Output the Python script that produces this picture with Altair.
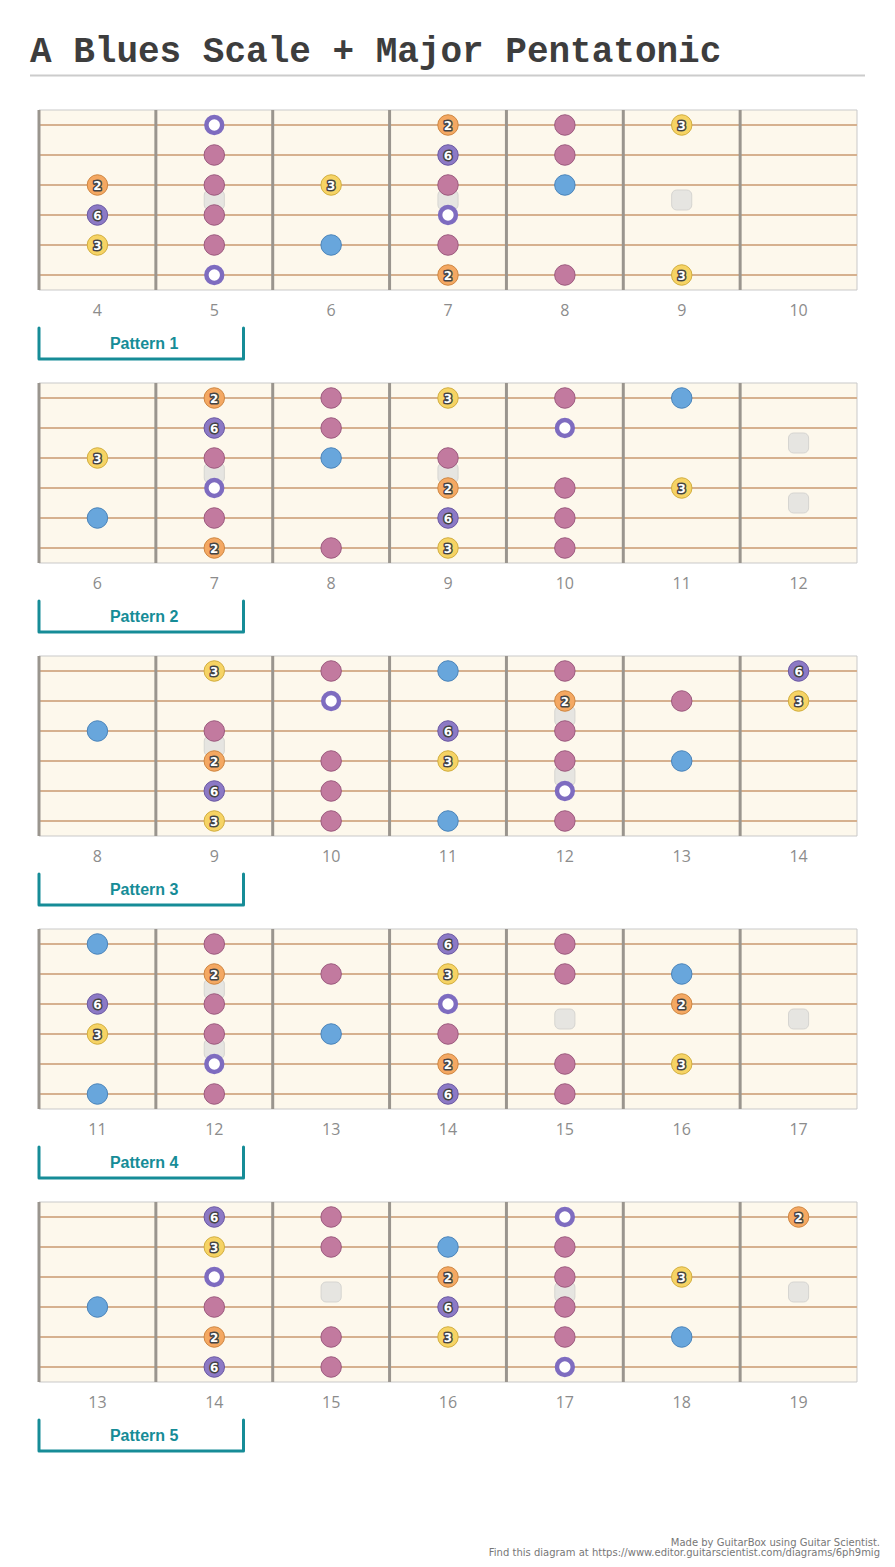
import altair as alt
import pandas as pd

TITLE = "A Blues Scale + Major Pentatonic"
FOOTER_1 = "Made by GuitarBox using Guitar Scientist."
FOOTER_2 = "Find this diagram at https://www.editor.guitarscientist.com/diagrams/6ph9mig"

pattern_names = ["Pattern 1", "Pattern 2", "Pattern 3", "Pattern 4", "Pattern 5"]
start_frets = [4, 6, 8, 11, 13]

# (string counted from the top, fret, degree)  R = root, m = minor pentatonic, b5 = blue note
p1_notes = [(1, 5, "R"), (1, 7, "2"), (1, 8, "m"), (1, 9, "3"),
            (2, 5, "m"), (2, 7, "6"), (2, 8, "m"),
            (3, 4, "2"), (3, 5, "m"), (3, 6, "3"), (3, 7, "m"), (3, 8, "b5"),
            (4, 4, "6"), (4, 5, "m"), (4, 7, "R"),
            (5, 4, "3"), (5, 5, "m"), (5, 6, "b5"), (5, 7, "m"),
            (6, 5, "R"), (6, 7, "2"), (6, 8, "m"), (6, 9, "3")]
p2_notes = [(1, 7, "2"), (1, 8, "m"), (1, 9, "3"), (1, 10, "m"), (1, 11, "b5"),
            (2, 7, "6"), (2, 8, "m"), (2, 10, "R"),
            (3, 6, "3"), (3, 7, "m"), (3, 8, "b5"), (3, 9, "m"),
            (4, 7, "R"), (4, 9, "2"), (4, 10, "m"), (4, 11, "3"),
            (5, 6, "b5"), (5, 7, "m"), (5, 9, "6"), (5, 10, "m"),
            (6, 7, "2"), (6, 8, "m"), (6, 9, "3"), (6, 10, "m")]
p3_notes = [(1, 9, "3"), (1, 10, "m"), (1, 11, "b5"), (1, 12, "m"), (1, 14, "6"),
            (2, 10, "R"), (2, 12, "2"), (2, 13, "m"), (2, 14, "3"),
            (3, 8, "b5"), (3, 9, "m"), (3, 11, "6"), (3, 12, "m"),
            (4, 9, "2"), (4, 10, "m"), (4, 11, "3"), (4, 12, "m"), (4, 13, "b5"),
            (5, 9, "6"), (5, 10, "m"), (5, 12, "R"),
            (6, 9, "3"), (6, 10, "m"), (6, 11, "b5"), (6, 12, "m")]
p4_notes = [(1, 11, "b5"), (1, 12, "m"), (1, 14, "6"), (1, 15, "m"),
            (2, 12, "2"), (2, 13, "m"), (2, 14, "3"), (2, 15, "m"), (2, 16, "b5"),
            (3, 11, "6"), (3, 12, "m"), (3, 14, "R"), (3, 16, "2"),
            (4, 11, "3"), (4, 12, "m"), (4, 13, "b5"), (4, 14, "m"),
            (5, 12, "R"), (5, 14, "2"), (5, 15, "m"), (5, 16, "3"),
            (6, 11, "b5"), (6, 12, "m"), (6, 14, "6"), (6, 15, "m")]
p5_notes = [(1, 14, "6"), (1, 15, "m"), (1, 17, "R"), (1, 19, "2"),
            (2, 14, "3"), (2, 15, "m"), (2, 16, "b5"), (2, 17, "m"),
            (3, 14, "R"), (3, 16, "2"), (3, 17, "m"), (3, 18, "3"),
            (4, 13, "b5"), (4, 14, "m"), (4, 16, "6"), (4, 17, "m"),
            (5, 14, "2"), (5, 15, "m"), (5, 16, "3"), (5, 17, "m"), (5, 18, "b5"),
            (6, 14, "6"), (6, 15, "m"), (6, 17, "R")]

# grey placeholder markers between strings (string position, fret)
p1_ghosts = [(3.5, 5), (3.5, 7), (3.5, 9)]
p2_ghosts = [(2.5, 12), (3.5, 7), (3.5, 9), (4.5, 12)]
p3_ghosts = [(2.5, 12), (3.5, 9), (4.5, 12)]
p4_ghosts = [(2.5, 12), (3.5, 15), (3.5, 17), (4.5, 12)]
p5_ghosts = [(3.5, 15), (3.5, 17), (3.5, 19)]

kinds = ["m", "b5", "2", "3", "6"]
kind_fill = ["#c27a9f", "#68a6dc", "#f4a862", "#f6d364", "#8c79c5"]
kind_stroke = ["#9c5a7e", "#4a84ba", "#cf8640", "#d2ae3e", "#6a58a2"]

all_notes = [p1_notes, p2_notes, p3_notes, p4_notes, p5_notes]
all_ghosts = [p1_ghosts, p2_ghosts, p3_ghosts, p4_ghosts, p5_ghosts]

N_FRETS = 7
N_STRINGS = 6
STEP = 9.1  # vertical period of panels, in string spacings

note_rows, ghost_rows, board_rows, string_rows, fret_rows = [], [], [], [], []
num_rows, bracket_rows, label_rows = [], [], []
for p, (start, notes, ghosts) in enumerate(zip(start_frets, all_notes, all_ghosts)):
    off = p * STEP
    for s, f, k in notes:
        note_rows.append({"p": p, "x": f - start + 0.5, "y": off + s, "kind": k,
                          "label": k if k in ("2", "3", "6") else ""})
    for s, f in ghosts:
        cx = f - start + 0.5
        ghost_rows.append({"x": cx - 0.086, "x2": cx + 0.086,
                           "y": off + s - 0.333, "y2": off + s + 0.333})
    board_rows.append({"x": 0, "x2": N_FRETS, "y": off + 0.5, "y2": off + N_STRINGS + 0.5})
    for s in range(1, N_STRINGS + 1):
        string_rows.append({"x": 0, "x2": N_FRETS, "y": off + s})
    for k in range(N_FRETS):
        fret_rows.append({"x": k, "y": off + 0.5, "y2": off + N_STRINGS + 0.5})
    for i in range(N_FRETS):
        num_rows.append({"x": i + 0.5, "y": off + 7.2, "t": str(start + i)})
    for o, (bx, by) in enumerate([(0, 7.77), (0, 8.8), (1.75, 8.8), (1.75, 7.77)]):
        bracket_rows.append({"p": p, "o": o, "x": bx, "y": off + by})
    label_rows.append({"x": 0.9, "y": off + 8.3, "t": pattern_names[p]})

notes_df = pd.DataFrame(note_rows)
ghost_df = pd.DataFrame(ghost_rows)

xs = alt.Scale(domain=[0, 7], range=[31, 849], nice=False, zero=False)
ys = alt.Scale(domain=[0.5, 6.5], range=[102, 282], nice=False, zero=False)
X = alt.X("x:Q", scale=xs, axis=None)
Y = alt.Y("y:Q", scale=ys, axis=None)

boards = alt.Chart(pd.DataFrame(board_rows)).mark_rect(
    fill="#fdf8ec", stroke="#c9c9c9", strokeWidth=1
).encode(x=X, x2="x2:Q", y=Y, y2="y2:Q")

strings = alt.Chart(pd.DataFrame(string_rows)).mark_rule(
    color="#d6b18f", strokeWidth=2
).encode(x=X, x2="x2:Q", y=Y)

frets = alt.Chart(pd.DataFrame(fret_rows)).mark_rule(
    color="#9a958e", strokeWidth=3
).encode(x=X, y=Y, y2="y2:Q")

ghosts = alt.Chart(ghost_df).mark_rect(
    fill="#e6e5e1", stroke="#d6d5d1", strokeWidth=1, cornerRadius=5
).encode(x=X, x2="x2:Q", y=Y, y2="y2:Q")

filled = alt.Chart(notes_df).transform_filter("datum.kind != 'R'").mark_circle(
    size=420, opacity=1, strokeWidth=1
).encode(
    x=X, y=Y,
    fill=alt.Fill("kind:N", scale=alt.Scale(domain=kinds, range=kind_fill), legend=None),
    stroke=alt.Stroke("kind:N", scale=alt.Scale(domain=kinds, range=kind_stroke), legend=None),
)

rings = alt.Chart(notes_df).transform_filter("datum.kind == 'R'").mark_circle(
    size=250, opacity=1, fill="#ffffff", stroke="#7e6cc0", strokeWidth=4.5
).encode(x=X, y=Y)

lab_outline = alt.Chart(notes_df).transform_filter("datum.label != ''").mark_text(
    font="DejaVu Sans", fontSize=12, fontWeight="bold", fill="#444444",
    stroke="#444444", strokeWidth=3, strokeJoin="round", baseline="middle", dy=0.5
).encode(x=X, y=Y, text="label:N")

lab_fill = alt.Chart(notes_df).transform_filter("datum.label != ''").mark_text(
    font="DejaVu Sans", fontSize=12, fontWeight="bold", fill="#ffffff",
    baseline="middle", dy=0.5
).encode(x=X, y=Y, text="label:N")

nums = alt.Chart(pd.DataFrame(num_rows)).mark_text(
    font="Open Sans", fontSize=16, color="#8c8c8c", baseline="middle"
).encode(x=X, y=Y, text="t:N")

bracket = alt.Chart(pd.DataFrame(bracket_rows)).mark_line(
    color="#168c97", strokeWidth=3, strokeJoin="round", strokeCap="round"
).encode(x=X, y=Y, order="o:Q", detail="p:N")

plabels = alt.Chart(pd.DataFrame(label_rows)).mark_text(
    font="Liberation Sans", fontSize=16, fontWeight="bold", color="#168c97", baseline="middle"
).encode(x=X, y=Y, text="t:N")

title = alt.Chart(pd.DataFrame({"t": [TITLE]})).mark_text(
    font="Courier New, Liberation Mono, monospace", fontSize=36, fontWeight="bold",
    color="#3d3d3d", align="left", baseline="alphabetic"
).encode(x=alt.value(22), y=alt.value(54), text="t:N")

underline = alt.Chart(pd.DataFrame({"t": [0]})).mark_rule(
    color="#cccccc", strokeWidth=2
).encode(x=alt.value(22), x2=alt.value(857), y=alt.value(67.5))

footer1 = alt.Chart(pd.DataFrame({"t": [FOOTER_1]})).mark_text(
    font="DejaVu Sans", fontSize=10, color="#777777", align="right", baseline="middle"
).encode(x=alt.value(872), y=alt.value(1535), text="t:N")

footer2 = alt.Chart(pd.DataFrame({"t": [FOOTER_2]})).mark_text(
    font="DejaVu Sans", fontSize=10, color="#777777", align="right", baseline="middle"
).encode(x=alt.value(872), y=alt.value(1545), text="t:N")

chart = alt.layer(
    boards, strings, frets, ghosts, filled, rings, lab_outline, lab_fill,
    nums, bracket, plabels, title, underline, footer1, footer2
).properties(
    width=879, height=1551, padding=0,
    autosize=alt.AutoSizeParams(type="none"),
    background="#ffffff",
).configure_view(stroke=None, strokeWidth=0)

chart.save("out.html", embed_options={"renderer": "svg", "actions": False})
